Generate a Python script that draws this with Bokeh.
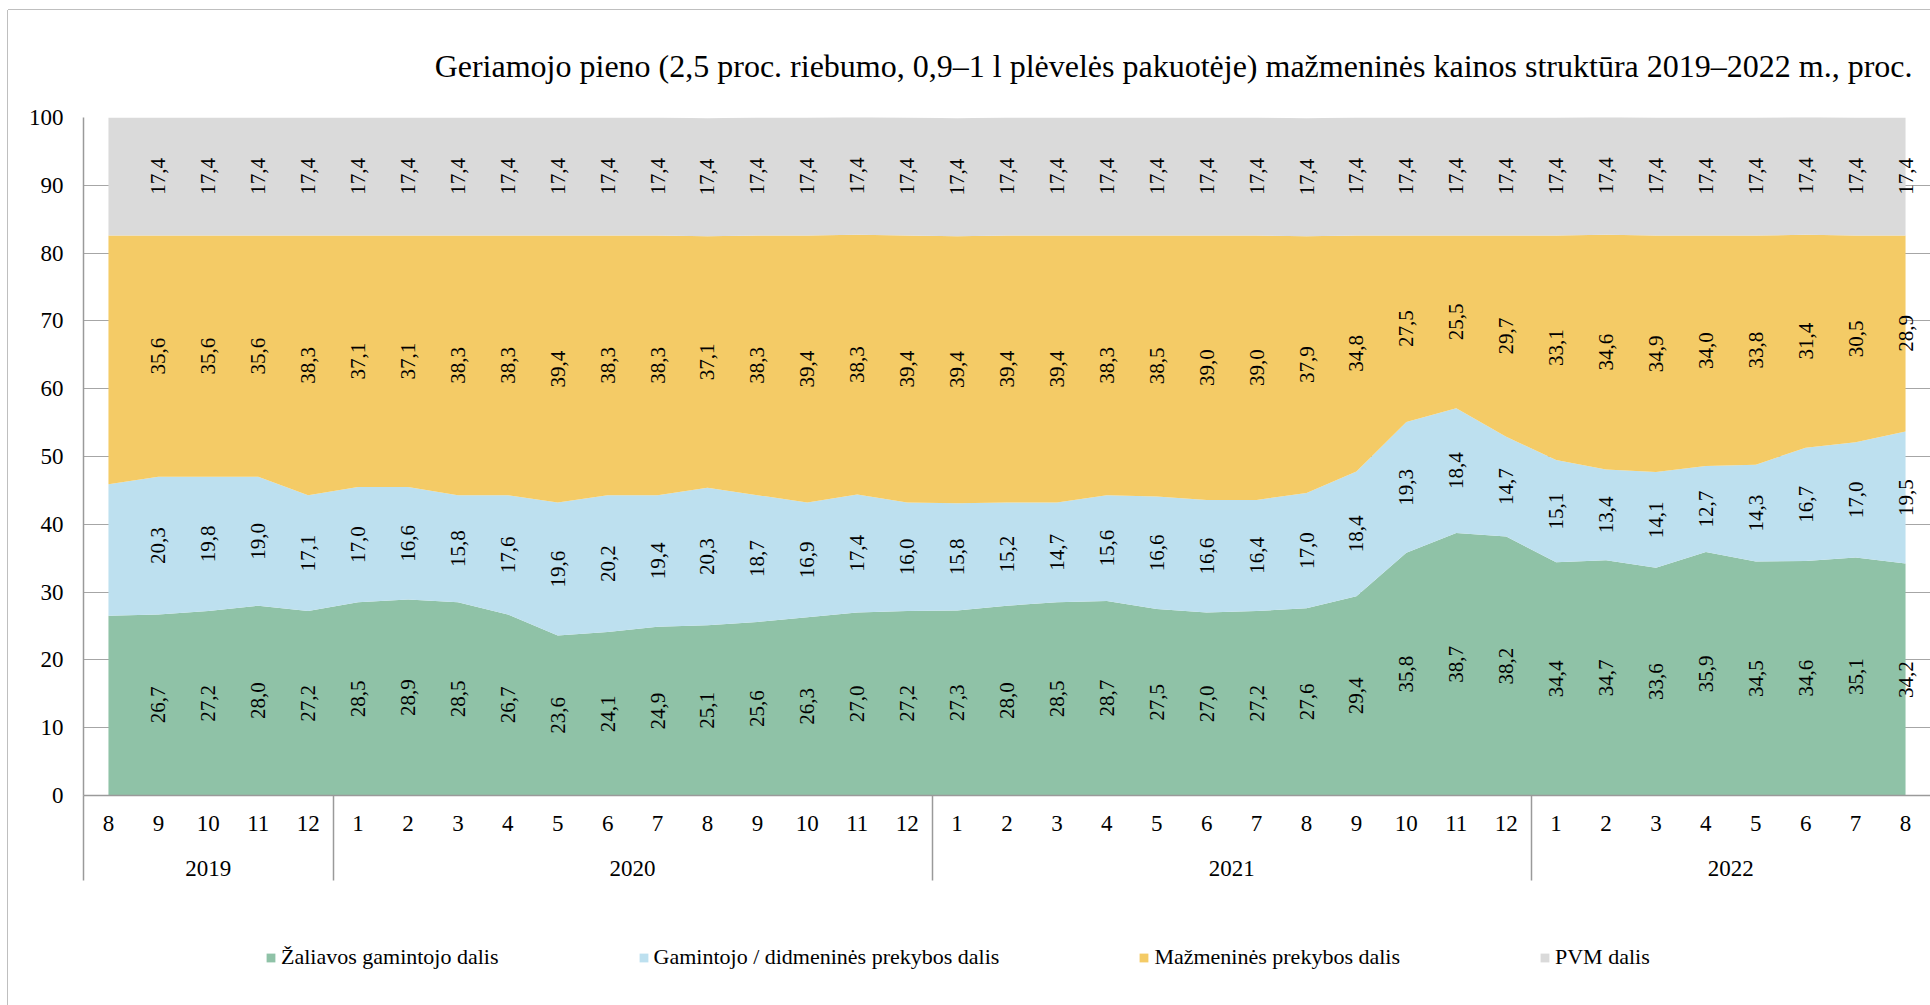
from bokeh.plotting import figure
from bokeh.models import (ColumnDataSource, FixedTicker, LinearAxis, Legend, LegendItem,
                          Title, Range1d)
from bokeh.layouts import column
from bokeh.core.properties import value
from bokeh.embed import file_html
from bokeh.resources import INLINE
import math

# ---------------- data ----------------
months = ["8", "9", "10", "11", "12",
          "1", "2", "3", "4", "5", "6", "7", "8", "9", "10", "11", "12",
          "1", "2", "3", "4", "5", "6", "7", "8", "9", "10", "11", "12",
          "1", "2", "3", "4", "5", "6", "7", "8"]
years = ["2019", "2020", "2021", "2022"]
months_per_year = [5, 12, 12, 8]

zaliavos = [26.5, 26.7, 27.2, 28.0, 27.2,
            28.5, 28.9, 28.5, 26.7, 23.6, 24.1, 24.9, 25.1, 25.6, 26.3, 27.0, 27.2,
            27.3, 28.0, 28.5, 28.7, 27.5, 27.0, 27.2, 27.6, 29.4, 35.8, 38.7, 38.2,
            34.4, 34.7, 33.6, 35.9, 34.5, 34.6, 35.1, 34.2]
gamintojo = [19.4, 20.3, 19.8, 19.0, 17.1,
             17.0, 16.6, 15.8, 17.6, 19.6, 20.2, 19.4, 20.3, 18.7, 16.9, 17.4, 16.0,
             15.8, 15.2, 14.7, 15.6, 16.6, 16.6, 16.4, 17.0, 18.4, 19.3, 18.4, 14.7,
             15.1, 13.4, 14.1, 12.7, 14.3, 16.7, 17.0, 19.5]
mazmenines = [36.7, 35.6, 35.6, 35.6, 38.3,
              37.1, 37.1, 38.3, 38.3, 39.4, 38.3, 38.3, 37.1, 38.3, 39.4, 38.3, 39.4,
              39.4, 39.4, 39.4, 38.3, 38.5, 39.0, 39.0, 37.9, 34.8, 27.5, 25.5, 29.7,
              33.1, 34.6, 34.9, 34.0, 33.8, 31.4, 30.5, 28.9]
pvm = [17.4, 17.4, 17.4, 17.4, 17.4,
       17.4, 17.4, 17.4, 17.4, 17.4, 17.4, 17.4, 17.4, 17.4, 17.4, 17.4, 17.4,
       17.4, 17.4, 17.4, 17.4, 17.4, 17.4, 17.4, 17.4, 17.4, 17.4, 17.4, 17.4,
       17.4, 17.4, 17.4, 17.4, 17.4, 17.4, 17.4, 17.4]

series_names = ["Žaliavos gamintojo dalis", "Gamintojo / didmeninės prekybos dalis",
                "Mažmeninės prekybos dalis", "PVM dalis"]
colors = ["#8fc2a7", "#bde0ef", "#f4cb66", "#dadada"]
title_text = ("Geriamojo pieno (2,5 proc. riebumo, 0,9–1 l plėvelės pakuotėje) "
              "mažmeninės kainos struktūra 2019–2022 m., proc.")

FONT = "Liberation Serif"
GRAY = "#9a9a9a"
W = 1922
H_MAIN = 895
H_LEG = 100

n = len(months)
xs = list(range(n))
src = ColumnDataSource(dict(x=xs, a=zaliavos, b=gamintojo, c=mazmenines, d=pvm))

p = figure(width=W, height=H_MAIN, output_backend="svg", toolbar_location=None,
           x_range=Range1d(-0.5, n - 0.5), y_range=Range1d(0, 100),
           x_axis_type=None, min_border_left=75, min_border_right=0,
           min_border_top=107, min_border_bottom=H_MAIN - 785)
p.outline_line_color = None
p.background_fill_color = "white"
p.border_fill_color = "white"

renderers = p.varea_stack(["a", "b", "c", "d"], x="x", color=colors, source=src)

# data labels (first month has none in the original)
lab_x, lab_y, lab_t = [], [], []
for i in range(1, n):
    base = 0.0
    for vals in (zaliavos, gamintojo, mazmenines, pvm):
        v = vals[i]
        lab_x.append(i)
        lab_y.append(base + v / 2.0)
        lab_t.append(f"{v:.1f}".replace(".", ","))
        base += v
lsrc = ColumnDataSource(dict(x=lab_x, y=lab_y, t=lab_t))
p.text(x="x", y="y", text="t", source=lsrc, angle=math.pi / 2,
       text_align="center", text_baseline="middle",
       text_font=value(FONT), text_font_size="21px", text_color="black")

# y axis
yax = p.yaxis[0]
yax.ticker = FixedTicker(ticks=list(range(0, 101, 10)))
yax.major_tick_out = 0
yax.major_tick_in = 0
yax.minor_tick_line_color = None
yax.axis_line_color = GRAY
yax.axis_line_width = 1.5
yax.major_label_text_font = FONT
yax.major_label_text_font_size = "23px"
yax.major_label_text_color = "black"
yax.major_label_standoff = 20
p.ygrid.ticker = FixedTicker(ticks=list(range(0, 101, 10)))
p.ygrid.grid_line_color = "#a6a6a6"
p.ygrid.grid_line_width = 1

# month axis, with year separators as long minor ticks
bounds = []
centers = []
start = 0
for cnt in months_per_year:
    bounds.append(start - 0.5)
    centers.append(start + (cnt - 1) / 2.0)
    start += cnt

SEP = 85
month_ax = LinearAxis(
    ticker=FixedTicker(ticks=xs, minor_ticks=bounds),
    major_label_overrides={i: m for i, m in enumerate(months)},
    major_tick_line_color=None, major_tick_out=0, major_tick_in=0,
    minor_tick_out=SEP, minor_tick_in=0, minor_tick_line_color=GRAY,
    minor_tick_line_width=1.5,
    axis_line_color=GRAY, axis_line_width=1.5,
    major_label_text_font=FONT, major_label_text_font_size="23px",
    major_label_text_color="black", major_label_standoff=20 - SEP)
p.add_layout(month_ax, "below")

year_ax = LinearAxis(
    ticker=FixedTicker(ticks=centers),
    major_label_overrides={c: y for c, y in zip(centers, years)},
    major_tick_line_color=None, major_tick_out=0, major_tick_in=0,
    minor_tick_line_color=None, axis_line_color=None,
    major_label_text_font=FONT, major_label_text_font_size="23px",
    major_label_text_color="black", major_label_standoff=27)
p.add_layout(year_ax, "below")

# title
p.add_layout(Title(text=title_text, align="right", offset=18, standoff=68,
                   text_font=FONT, text_font_size="32px", text_font_style="normal",
                   text_color="black"), "above")

# legend in a strip below the chart (swatch renderers lie outside the visible range)
lg = figure(width=W, height=H_LEG, output_backend="svg", toolbar_location=None,
            x_range=Range1d(0, 1), y_range=Range1d(0, 1),
            x_axis_type=None, y_axis_type=None,
            min_border_left=0, min_border_right=0, min_border_top=0, min_border_bottom=0)
lg.outline_line_color = None
lg.xgrid.visible = False
lg.ygrid.visible = False
swatch = ColumnDataSource(dict(x=[5, 6], y1=[5, 5], y2=[6, 6]))
leg_rs = [lg.varea(x="x", y1="y1", y2="y2", color=c, source=swatch) for c in colors]
items = [LegendItem(label=nm, renderers=[r]) for nm, r in zip(series_names, leg_rs)]
legend = Legend(items=items, orientation="horizontal", location=(182, 35),
                spacing=139, glyph_width=11, glyph_height=11, label_standoff=5,
                label_text_font=FONT, label_text_font_size="22px",
                label_text_color="black", border_line_color=None,
                background_fill_alpha=0, padding=0, margin=0)
lg.add_layout(legend, "center")

layout = column(p, lg, spacing=0)
layout.margin = (10, 0, 0, 8)
layout.styles = {"box-shadow": "-1px 0 0 #bfbfbf, 0 -1px 0 #bfbfbf"}

open("out.html", "w").write(file_html(layout, INLINE))
